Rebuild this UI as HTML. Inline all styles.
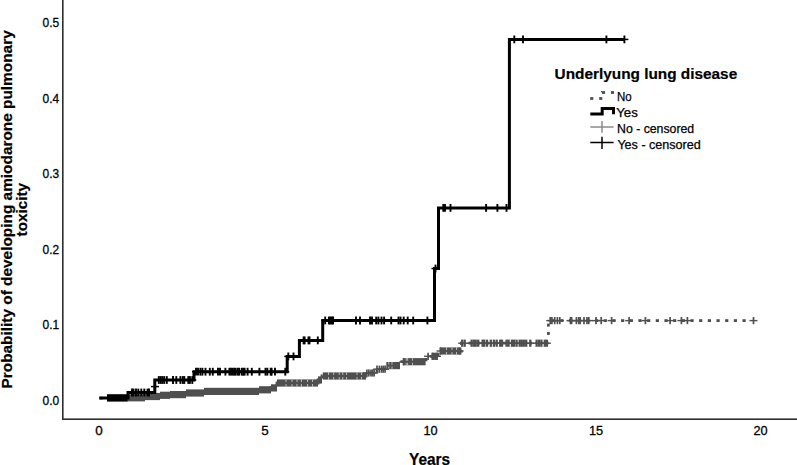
<!DOCTYPE html>
<html><head><meta charset="utf-8"><style>
html,body{margin:0;padding:0;background:#fff;}
body{width:797px;height:465px;overflow:hidden;}
svg{display:block;}
.tk{font-family:"Liberation Sans",sans-serif;font-size:13.4px;fill:#000;stroke:#000;stroke-width:0.3px;}
.tt{font-family:"Liberation Sans",sans-serif;font-size:15.4px;font-weight:bold;fill:#000;stroke:#000;stroke-width:0.2px;}
.lg{font-family:"Liberation Sans",sans-serif;font-size:12.4px;fill:#000;stroke:#000;stroke-width:0.25px;}
</style></head><body>
<svg width="797" height="465" viewBox="0 0 797 465">
<rect x="62" y="0" width="1.6" height="420" fill="#2e2e2e"/>
<rect x="62" y="418.4" width="735" height="1.6" fill="#2e2e2e"/>
<text x="59.2" y="27.2" text-anchor="end" class="tk" textLength="16.6" lengthAdjust="spacingAndGlyphs">0.5</text>
<text x="59.2" y="102.7" text-anchor="end" class="tk" textLength="16.6" lengthAdjust="spacingAndGlyphs">0.4</text>
<text x="59.2" y="178.2" text-anchor="end" class="tk" textLength="16.6" lengthAdjust="spacingAndGlyphs">0.3</text>
<text x="59.2" y="253.7" text-anchor="end" class="tk" textLength="16.6" lengthAdjust="spacingAndGlyphs">0.2</text>
<text x="59.2" y="329.2" text-anchor="end" class="tk" textLength="16.6" lengthAdjust="spacingAndGlyphs">0.1</text>
<text x="59.2" y="404.7" text-anchor="end" class="tk" textLength="16.6" lengthAdjust="spacingAndGlyphs">0.0</text>
<text x="99" y="435.1" text-anchor="middle" class="tk">0</text>
<text x="264.9" y="435.1" text-anchor="middle" class="tk">5</text>
<text x="430.5" y="435.1" text-anchor="middle" class="tk" textLength="14.2" lengthAdjust="spacingAndGlyphs">10</text>
<text x="596" y="435.1" text-anchor="middle" class="tk" textLength="14.2" lengthAdjust="spacingAndGlyphs">15</text>
<text x="760.5" y="435.1" text-anchor="middle" class="tk" textLength="14.2" lengthAdjust="spacingAndGlyphs">20</text>
<text x="429.6" y="464.6" text-anchor="middle" class="tt" style="font-size:16.2px" textLength="41.2" lengthAdjust="spacingAndGlyphs">Years</text>
<g transform="translate(12.1 209.4) rotate(-90)"><text x="0" y="0" text-anchor="middle" class="tt" textLength="358.2" lengthAdjust="spacingAndGlyphs">Probability of developing amiodarone pulmonary</text></g>
<g transform="translate(26.6 209.7) rotate(-90)"><text x="0" y="0" text-anchor="middle" class="tt" textLength="53.5" lengthAdjust="spacingAndGlyphs">toxicity</text></g>
<path d="M99.5 398.1H127V397.8H145V396.5H160V395.3H170V394.6H186V393H204V391.4H259V389.8H271V387.9H277V383H318V380H322V376H366V373H377V369.2H386V365.6H400V361.7H426V356.3H438V351H461.5V343.2H548.4" stroke="#4f4f4f" stroke-width="2.8" fill="none" stroke-dasharray="3.2 5.45" stroke-dashoffset="0"/>
<rect x="547.0" y="331.9" width="2.8" height="3.0" fill="#4f4f4f"/>
<rect x="547.0" y="323.6" width="2.8" height="3.0" fill="#4f4f4f"/>
<rect x="551.65" y="319.2" width="3.2" height="2.8" fill="#4f4f4f"/>
<rect x="560.32" y="319.2" width="3.2" height="2.8" fill="#4f4f4f"/>
<rect x="569.00" y="319.2" width="3.2" height="2.8" fill="#4f4f4f"/>
<rect x="577.67" y="319.2" width="3.2" height="2.8" fill="#4f4f4f"/>
<rect x="586.35" y="319.2" width="3.2" height="2.8" fill="#4f4f4f"/>
<rect x="595.02" y="319.2" width="3.2" height="2.8" fill="#4f4f4f"/>
<rect x="603.70" y="319.2" width="3.2" height="2.8" fill="#4f4f4f"/>
<rect x="612.37" y="319.2" width="3.2" height="2.8" fill="#4f4f4f"/>
<rect x="621.05" y="319.2" width="3.2" height="2.8" fill="#4f4f4f"/>
<rect x="629.72" y="319.2" width="3.2" height="2.8" fill="#4f4f4f"/>
<rect x="638.40" y="319.2" width="3.2" height="2.8" fill="#4f4f4f"/>
<rect x="647.07" y="319.2" width="3.2" height="2.8" fill="#4f4f4f"/>
<rect x="655.75" y="319.2" width="3.2" height="2.8" fill="#4f4f4f"/>
<rect x="664.42" y="319.2" width="3.2" height="2.8" fill="#4f4f4f"/>
<rect x="673.10" y="319.2" width="3.2" height="2.8" fill="#4f4f4f"/>
<rect x="681.77" y="319.2" width="3.2" height="2.8" fill="#4f4f4f"/>
<rect x="690.45" y="319.2" width="3.2" height="2.8" fill="#4f4f4f"/>
<rect x="699.12" y="319.2" width="3.2" height="2.8" fill="#4f4f4f"/>
<rect x="707.80" y="319.2" width="3.2" height="2.8" fill="#4f4f4f"/>
<rect x="716.47" y="319.2" width="3.2" height="2.8" fill="#4f4f4f"/>
<rect x="725.15" y="319.2" width="3.2" height="2.8" fill="#4f4f4f"/>
<rect x="733.82" y="319.2" width="3.2" height="2.8" fill="#4f4f4f"/>
<rect x="742.50" y="319.2" width="3.2" height="2.8" fill="#4f4f4f"/>
<rect x="127" y="394.2" width="18.0" height="7.2" fill="#4f4f4f"/>
<rect x="145" y="392.9" width="15.0" height="7.2" fill="#4f4f4f"/>
<rect x="160" y="391.7" width="10.0" height="7.2" fill="#4f4f4f"/>
<rect x="170" y="391.0" width="16.0" height="7.2" fill="#4f4f4f"/>
<rect x="186" y="389.4" width="18.0" height="7.2" fill="#4f4f4f"/>
<rect x="204" y="387.8" width="55.0" height="7.2" fill="#4f4f4f"/>
<rect x="259" y="386.2" width="12.0" height="7.2" fill="#4f4f4f"/>
<rect x="271" y="384.3" width="6.0" height="7.2" fill="#4f4f4f"/>
<rect x="318" y="376.4" width="4.0" height="7.2" fill="#4f4f4f"/>
<rect x="277" y="379.4" width="41.0" height="7.2" fill="#4f4f4f"/>
<rect x="285.50" y="379.4" width="1.0" height="2.6" fill="#fff" fill-opacity="0.6"/>
<rect x="285.50" y="384.0" width="1.0" height="2.6" fill="#fff" fill-opacity="0.6"/>
<rect x="291.50" y="379.4" width="1.0" height="2.6" fill="#fff" fill-opacity="0.6"/>
<rect x="291.50" y="384.0" width="1.0" height="2.6" fill="#fff" fill-opacity="0.6"/>
<rect x="296.50" y="379.4" width="1.0" height="2.6" fill="#fff" fill-opacity="0.6"/>
<rect x="296.50" y="384.0" width="1.0" height="2.6" fill="#fff" fill-opacity="0.6"/>
<rect x="300.90" y="379.4" width="1.0" height="2.6" fill="#fff" fill-opacity="0.6"/>
<rect x="300.90" y="384.0" width="1.0" height="2.6" fill="#fff" fill-opacity="0.6"/>
<rect x="307.00" y="379.4" width="1.0" height="2.6" fill="#fff" fill-opacity="0.6"/>
<rect x="307.00" y="384.0" width="1.0" height="2.6" fill="#fff" fill-opacity="0.6"/>
<rect x="312.00" y="379.4" width="1.0" height="2.6" fill="#fff" fill-opacity="0.6"/>
<rect x="312.00" y="384.0" width="1.0" height="2.6" fill="#fff" fill-opacity="0.6"/>
<rect x="322.8" y="372.4" width="43.2" height="7.2" fill="#4f4f4f"/>
<rect x="328.00" y="372.4" width="1.0" height="2.6" fill="#fff" fill-opacity="0.6"/>
<rect x="328.00" y="377.0" width="1.0" height="2.6" fill="#fff" fill-opacity="0.6"/>
<rect x="333.10" y="372.4" width="1.0" height="2.6" fill="#fff" fill-opacity="0.6"/>
<rect x="333.10" y="377.0" width="1.0" height="2.6" fill="#fff" fill-opacity="0.6"/>
<rect x="338.70" y="372.4" width="1.0" height="2.6" fill="#fff" fill-opacity="0.6"/>
<rect x="338.70" y="377.0" width="1.0" height="2.6" fill="#fff" fill-opacity="0.6"/>
<rect x="342.30" y="372.4" width="1.0" height="2.6" fill="#fff" fill-opacity="0.6"/>
<rect x="342.30" y="377.0" width="1.0" height="2.6" fill="#fff" fill-opacity="0.6"/>
<rect x="346.00" y="372.4" width="1.0" height="2.6" fill="#fff" fill-opacity="0.6"/>
<rect x="346.00" y="377.0" width="1.0" height="2.6" fill="#fff" fill-opacity="0.6"/>
<rect x="356.50" y="372.4" width="1.0" height="2.6" fill="#fff" fill-opacity="0.6"/>
<rect x="356.50" y="377.0" width="1.0" height="2.6" fill="#fff" fill-opacity="0.6"/>
<rect x="361.00" y="372.4" width="1.0" height="2.6" fill="#fff" fill-opacity="0.6"/>
<rect x="361.00" y="377.0" width="1.0" height="2.6" fill="#fff" fill-opacity="0.6"/>
<rect x="386.3" y="362.0" width="13.7" height="7.2" fill="#4f4f4f"/>
<rect x="388.30" y="362.0" width="1.0" height="2.6" fill="#fff" fill-opacity="0.6"/>
<rect x="388.30" y="366.6" width="1.0" height="2.6" fill="#fff" fill-opacity="0.6"/>
<rect x="391.50" y="362.0" width="1.0" height="2.6" fill="#fff" fill-opacity="0.6"/>
<rect x="391.50" y="366.6" width="1.0" height="2.6" fill="#fff" fill-opacity="0.6"/>
<rect x="403" y="358.1" width="22.6" height="7.2" fill="#4f4f4f"/>
<rect x="405.70" y="358.1" width="1.0" height="2.6" fill="#fff" fill-opacity="0.6"/>
<rect x="405.70" y="362.7" width="1.0" height="2.6" fill="#fff" fill-opacity="0.6"/>
<rect x="407.10" y="358.1" width="1.0" height="2.6" fill="#fff" fill-opacity="0.6"/>
<rect x="407.10" y="362.7" width="1.0" height="2.6" fill="#fff" fill-opacity="0.6"/>
<rect x="412.00" y="358.1" width="1.0" height="2.6" fill="#fff" fill-opacity="0.6"/>
<rect x="412.00" y="362.7" width="1.0" height="2.6" fill="#fff" fill-opacity="0.6"/>
<rect x="431.6" y="352.7" width="6.2" height="7.2" fill="#4f4f4f"/>
<rect x="439.7" y="347.4" width="21.7" height="7.2" fill="#4f4f4f"/>
<rect x="446.00" y="347.4" width="1.0" height="2.6" fill="#fff" fill-opacity="0.6"/>
<rect x="446.00" y="352.0" width="1.0" height="2.6" fill="#fff" fill-opacity="0.6"/>
<rect x="451.50" y="347.4" width="1.0" height="2.6" fill="#fff" fill-opacity="0.6"/>
<rect x="451.50" y="352.0" width="1.0" height="2.6" fill="#fff" fill-opacity="0.6"/>
<rect x="456.00" y="347.4" width="1.0" height="2.6" fill="#fff" fill-opacity="0.6"/>
<rect x="456.00" y="352.0" width="1.0" height="2.6" fill="#fff" fill-opacity="0.6"/>
<path d="M362.90 373.00H370.90" stroke="#4f4f4f" stroke-width="1.4" fill="none"/><path d="M366.90 369.40V376.60" stroke="#4f4f4f" stroke-width="1.7" fill="none"/>
<path d="M364.80 373.00H372.80" stroke="#4f4f4f" stroke-width="1.4" fill="none"/><path d="M368.80 369.40V376.60" stroke="#4f4f4f" stroke-width="1.7" fill="none"/>
<path d="M367.00 373.00H375.00" stroke="#4f4f4f" stroke-width="1.4" fill="none"/><path d="M371.00 369.40V376.60" stroke="#4f4f4f" stroke-width="1.7" fill="none"/>
<path d="M368.60 373.00H376.60" stroke="#4f4f4f" stroke-width="1.4" fill="none"/><path d="M372.60 369.40V376.60" stroke="#4f4f4f" stroke-width="1.7" fill="none"/>
<path d="M370.10 373.00H378.10" stroke="#4f4f4f" stroke-width="1.4" fill="none"/><path d="M374.10 369.40V376.60" stroke="#4f4f4f" stroke-width="1.7" fill="none"/>
<path d="M373.00 369.20H381.00" stroke="#4f4f4f" stroke-width="1.4" fill="none"/><path d="M377.00 365.60V372.80" stroke="#4f4f4f" stroke-width="1.7" fill="none"/>
<path d="M375.40 369.20H383.40" stroke="#4f4f4f" stroke-width="1.4" fill="none"/><path d="M379.40 365.60V372.80" stroke="#4f4f4f" stroke-width="1.7" fill="none"/>
<path d="M377.60 369.20H385.60" stroke="#4f4f4f" stroke-width="1.4" fill="none"/><path d="M381.60 365.60V372.80" stroke="#4f4f4f" stroke-width="1.7" fill="none"/>
<path d="M379.30 369.20H387.30" stroke="#4f4f4f" stroke-width="1.4" fill="none"/><path d="M383.30 365.60V372.80" stroke="#4f4f4f" stroke-width="1.7" fill="none"/>
<path d="M381.10 369.20H389.10" stroke="#4f4f4f" stroke-width="1.4" fill="none"/><path d="M385.10 365.60V372.80" stroke="#4f4f4f" stroke-width="1.7" fill="none"/>
<path d="M399.50 361.70H407.50" stroke="#4f4f4f" stroke-width="1.4" fill="none"/><path d="M403.50 358.10V365.30" stroke="#4f4f4f" stroke-width="1.7" fill="none"/>
<path d="M424.10 356.30H432.10" stroke="#4f4f4f" stroke-width="1.4" fill="none"/><path d="M428.10 352.70V359.90" stroke="#4f4f4f" stroke-width="1.7" fill="none"/>
<path d="M428.50 356.30H436.50" stroke="#4f4f4f" stroke-width="1.4" fill="none"/><path d="M432.50 352.70V359.90" stroke="#4f4f4f" stroke-width="1.7" fill="none"/>
<path d="M433.00 356.30H441.00" stroke="#4f4f4f" stroke-width="1.4" fill="none"/><path d="M437.00 352.70V359.90" stroke="#4f4f4f" stroke-width="1.7" fill="none"/>
<path d="M436.50 351.00H444.50" stroke="#4f4f4f" stroke-width="1.4" fill="none"/><path d="M440.50 347.40V354.60" stroke="#4f4f4f" stroke-width="1.7" fill="none"/>
<path d="M455.60 351.00H463.60" stroke="#4f4f4f" stroke-width="1.4" fill="none"/><path d="M459.60 347.40V354.60" stroke="#4f4f4f" stroke-width="1.7" fill="none"/>
<path d="M458.20 343.20H466.20" stroke="#4f4f4f" stroke-width="1.4" fill="none"/><path d="M462.20 339.60V346.80" stroke="#4f4f4f" stroke-width="2.3" fill="none"/>
<path d="M460.70 343.20H468.70" stroke="#4f4f4f" stroke-width="1.4" fill="none"/><path d="M464.70 339.60V346.80" stroke="#4f4f4f" stroke-width="2.3" fill="none"/>
<path d="M467.60 343.20H475.60" stroke="#4f4f4f" stroke-width="1.4" fill="none"/><path d="M471.60 339.60V346.80" stroke="#4f4f4f" stroke-width="2.3" fill="none"/>
<path d="M469.80 343.20H477.80" stroke="#4f4f4f" stroke-width="1.4" fill="none"/><path d="M473.80 339.60V346.80" stroke="#4f4f4f" stroke-width="2.3" fill="none"/>
<path d="M471.70 343.20H479.70" stroke="#4f4f4f" stroke-width="1.4" fill="none"/><path d="M475.70 339.60V346.80" stroke="#4f4f4f" stroke-width="2.3" fill="none"/>
<path d="M474.20 343.20H482.20" stroke="#4f4f4f" stroke-width="1.4" fill="none"/><path d="M478.20 339.60V346.80" stroke="#4f4f4f" stroke-width="2.3" fill="none"/>
<path d="M478.60 343.20H486.60" stroke="#4f4f4f" stroke-width="1.4" fill="none"/><path d="M482.60 339.60V346.80" stroke="#4f4f4f" stroke-width="2.3" fill="none"/>
<path d="M480.20 343.20H488.20" stroke="#4f4f4f" stroke-width="1.4" fill="none"/><path d="M484.20 339.60V346.80" stroke="#4f4f4f" stroke-width="2.3" fill="none"/>
<path d="M483.00 343.20H491.00" stroke="#4f4f4f" stroke-width="1.4" fill="none"/><path d="M487.00 339.60V346.80" stroke="#4f4f4f" stroke-width="2.3" fill="none"/>
<path d="M486.80 343.20H494.80" stroke="#4f4f4f" stroke-width="1.4" fill="none"/><path d="M490.80 339.60V346.80" stroke="#4f4f4f" stroke-width="2.3" fill="none"/>
<path d="M489.90 343.20H497.90" stroke="#4f4f4f" stroke-width="1.4" fill="none"/><path d="M493.90 339.60V346.80" stroke="#4f4f4f" stroke-width="2.3" fill="none"/>
<path d="M492.70 343.20H500.70" stroke="#4f4f4f" stroke-width="1.4" fill="none"/><path d="M496.70 339.60V346.80" stroke="#4f4f4f" stroke-width="2.3" fill="none"/>
<path d="M496.20 343.20H504.20" stroke="#4f4f4f" stroke-width="1.4" fill="none"/><path d="M500.20 339.60V346.80" stroke="#4f4f4f" stroke-width="2.3" fill="none"/>
<path d="M498.00 343.20H506.00" stroke="#4f4f4f" stroke-width="1.4" fill="none"/><path d="M502.00 339.60V346.80" stroke="#4f4f4f" stroke-width="2.3" fill="none"/>
<path d="M502.60 343.20H510.60" stroke="#4f4f4f" stroke-width="1.4" fill="none"/><path d="M506.60 339.60V346.80" stroke="#4f4f4f" stroke-width="2.3" fill="none"/>
<path d="M504.60 343.20H512.60" stroke="#4f4f4f" stroke-width="1.4" fill="none"/><path d="M508.60 339.60V346.80" stroke="#4f4f4f" stroke-width="2.3" fill="none"/>
<path d="M508.00 343.20H516.00" stroke="#4f4f4f" stroke-width="1.4" fill="none"/><path d="M512.00 339.60V346.80" stroke="#4f4f4f" stroke-width="2.3" fill="none"/>
<path d="M510.10 343.20H518.10" stroke="#4f4f4f" stroke-width="1.4" fill="none"/><path d="M514.10 339.60V346.80" stroke="#4f4f4f" stroke-width="2.3" fill="none"/>
<path d="M512.60 343.20H520.60" stroke="#4f4f4f" stroke-width="1.4" fill="none"/><path d="M516.60 339.60V346.80" stroke="#4f4f4f" stroke-width="2.3" fill="none"/>
<path d="M515.70 343.20H523.70" stroke="#4f4f4f" stroke-width="1.4" fill="none"/><path d="M519.70 339.60V346.80" stroke="#4f4f4f" stroke-width="2.3" fill="none"/>
<path d="M517.70 343.20H525.70" stroke="#4f4f4f" stroke-width="1.4" fill="none"/><path d="M521.70 339.60V346.80" stroke="#4f4f4f" stroke-width="2.3" fill="none"/>
<path d="M519.80 343.20H527.80" stroke="#4f4f4f" stroke-width="1.4" fill="none"/><path d="M523.80 339.60V346.80" stroke="#4f4f4f" stroke-width="2.3" fill="none"/>
<path d="M522.20 343.20H530.20" stroke="#4f4f4f" stroke-width="1.4" fill="none"/><path d="M526.20 339.60V346.80" stroke="#4f4f4f" stroke-width="2.3" fill="none"/>
<path d="M526.30 343.20H534.30" stroke="#4f4f4f" stroke-width="1.4" fill="none"/><path d="M530.30 339.60V346.80" stroke="#4f4f4f" stroke-width="2.3" fill="none"/>
<path d="M532.60 343.20H540.60" stroke="#4f4f4f" stroke-width="1.4" fill="none"/><path d="M536.60 339.60V346.80" stroke="#4f4f4f" stroke-width="2.3" fill="none"/>
<path d="M535.00 343.20H543.00" stroke="#4f4f4f" stroke-width="1.4" fill="none"/><path d="M539.00 339.60V346.80" stroke="#4f4f4f" stroke-width="2.3" fill="none"/>
<path d="M537.40 343.20H545.40" stroke="#4f4f4f" stroke-width="1.4" fill="none"/><path d="M541.40 339.60V346.80" stroke="#4f4f4f" stroke-width="2.3" fill="none"/>
<path d="M540.80 343.20H548.80" stroke="#4f4f4f" stroke-width="1.4" fill="none"/><path d="M544.80 339.60V346.80" stroke="#4f4f4f" stroke-width="2.3" fill="none"/>
<path d="M542.90 343.20H550.90" stroke="#4f4f4f" stroke-width="1.4" fill="none"/><path d="M546.90 339.60V346.80" stroke="#4f4f4f" stroke-width="2.3" fill="none"/>
<path d="M546.20 320.60H554.20" stroke="#4f4f4f" stroke-width="1.4" fill="none"/><path d="M550.20 317.00V324.20" stroke="#4f4f4f" stroke-width="1.7" fill="none"/>
<path d="M547.90 320.60H555.90" stroke="#4f4f4f" stroke-width="1.4" fill="none"/><path d="M551.90 317.00V324.20" stroke="#4f4f4f" stroke-width="1.7" fill="none"/>
<path d="M550.70 320.60H558.70" stroke="#4f4f4f" stroke-width="1.4" fill="none"/><path d="M554.70 317.00V324.20" stroke="#4f4f4f" stroke-width="1.7" fill="none"/>
<path d="M553.40 320.60H561.40" stroke="#4f4f4f" stroke-width="1.4" fill="none"/><path d="M557.40 317.00V324.20" stroke="#4f4f4f" stroke-width="1.7" fill="none"/>
<path d="M555.80 320.60H563.80" stroke="#4f4f4f" stroke-width="1.4" fill="none"/><path d="M559.80 317.00V324.20" stroke="#4f4f4f" stroke-width="1.7" fill="none"/>
<path d="M566.50 320.60H574.50" stroke="#4f4f4f" stroke-width="1.4" fill="none"/><path d="M570.50 317.00V324.20" stroke="#4f4f4f" stroke-width="1.7" fill="none"/>
<path d="M567.60 320.60H575.60" stroke="#4f4f4f" stroke-width="1.4" fill="none"/><path d="M571.60 317.00V324.20" stroke="#4f4f4f" stroke-width="1.7" fill="none"/>
<path d="M572.40 320.60H580.40" stroke="#4f4f4f" stroke-width="1.4" fill="none"/><path d="M576.40 317.00V324.20" stroke="#4f4f4f" stroke-width="1.7" fill="none"/>
<path d="M574.80 320.60H582.80" stroke="#4f4f4f" stroke-width="1.4" fill="none"/><path d="M578.80 317.00V324.20" stroke="#4f4f4f" stroke-width="1.7" fill="none"/>
<path d="M576.20 320.60H584.20" stroke="#4f4f4f" stroke-width="1.4" fill="none"/><path d="M580.20 317.00V324.20" stroke="#4f4f4f" stroke-width="1.7" fill="none"/>
<path d="M580.00 320.60H588.00" stroke="#4f4f4f" stroke-width="1.4" fill="none"/><path d="M584.00 317.00V324.20" stroke="#4f4f4f" stroke-width="1.7" fill="none"/>
<path d="M583.00 320.60H591.00" stroke="#4f4f4f" stroke-width="1.4" fill="none"/><path d="M587.00 317.00V324.20" stroke="#4f4f4f" stroke-width="1.7" fill="none"/>
<path d="M584.80 320.60H592.80" stroke="#4f4f4f" stroke-width="1.4" fill="none"/><path d="M588.80 317.00V324.20" stroke="#4f4f4f" stroke-width="1.7" fill="none"/>
<path d="M592.00 320.60H600.00" stroke="#4f4f4f" stroke-width="1.4" fill="none"/><path d="M596.00 317.00V324.20" stroke="#4f4f4f" stroke-width="1.7" fill="none"/>
<path d="M597.20 320.60H605.20" stroke="#4f4f4f" stroke-width="1.4" fill="none"/><path d="M601.20 317.00V324.20" stroke="#4f4f4f" stroke-width="1.7" fill="none"/>
<path d="M607.60 320.60H615.60" stroke="#4f4f4f" stroke-width="1.4" fill="none"/><path d="M611.60 317.00V324.20" stroke="#4f4f4f" stroke-width="1.7" fill="none"/>
<path d="M625.10 320.60H633.10" stroke="#4f4f4f" stroke-width="1.4" fill="none"/><path d="M629.10 317.00V324.20" stroke="#4f4f4f" stroke-width="1.7" fill="none"/>
<path d="M641.40 320.60H649.40" stroke="#4f4f4f" stroke-width="1.4" fill="none"/><path d="M645.40 317.00V324.20" stroke="#4f4f4f" stroke-width="1.7" fill="none"/>
<path d="M666.10 320.60H674.10" stroke="#4f4f4f" stroke-width="1.4" fill="none"/><path d="M670.10 317.00V324.20" stroke="#4f4f4f" stroke-width="1.7" fill="none"/>
<path d="M677.40 320.60H685.40" stroke="#4f4f4f" stroke-width="1.4" fill="none"/><path d="M681.40 317.00V324.20" stroke="#4f4f4f" stroke-width="1.7" fill="none"/>
<path d="M683.40 320.60H691.40" stroke="#4f4f4f" stroke-width="1.4" fill="none"/><path d="M687.40 317.00V324.20" stroke="#4f4f4f" stroke-width="1.7" fill="none"/>
<path d="M749.50 320.60H757.50" stroke="#4f4f4f" stroke-width="1.4" fill="none"/><path d="M753.50 317.00V324.20" stroke="#4f4f4f" stroke-width="1.7" fill="none"/>
<path d="M99.3 398.1H128V392.5H154.8V380H194V371.7H287.2V356.4H299.4V340.4H322.7V320.5H434.5V268.5H438.5V207.9H509.4V39.4H624.4" stroke="#000" stroke-width="3" fill="none" stroke-linejoin="miter"/>
<rect x="107" y="394.2" width="20.5" height="7.4" fill="#000"/>
<path d="M128.00 392.50H136.00" stroke="#000" stroke-width="1.5" fill="none"/><path d="M132.00 388.60V396.40" stroke="#000" stroke-width="1.9" fill="none"/>
<path d="M129.50 392.50H137.50" stroke="#000" stroke-width="1.5" fill="none"/><path d="M133.50 388.60V396.40" stroke="#000" stroke-width="1.9" fill="none"/>
<path d="M132.00 392.50H140.00" stroke="#000" stroke-width="1.5" fill="none"/><path d="M136.00 388.60V396.40" stroke="#000" stroke-width="1.9" fill="none"/>
<path d="M134.30 392.50H142.30" stroke="#000" stroke-width="1.5" fill="none"/><path d="M138.30 388.60V396.40" stroke="#000" stroke-width="1.9" fill="none"/>
<path d="M137.30 392.50H145.30" stroke="#000" stroke-width="1.5" fill="none"/><path d="M141.30 388.60V396.40" stroke="#000" stroke-width="1.9" fill="none"/>
<path d="M140.30 392.50H148.30" stroke="#000" stroke-width="1.5" fill="none"/><path d="M144.30 388.60V396.40" stroke="#000" stroke-width="1.9" fill="none"/>
<path d="M143.50 392.50H151.50" stroke="#000" stroke-width="1.5" fill="none"/><path d="M147.50 388.60V396.40" stroke="#000" stroke-width="1.9" fill="none"/>
<path d="M145.00 392.50H153.00" stroke="#000" stroke-width="1.5" fill="none"/><path d="M149.00 388.60V396.40" stroke="#000" stroke-width="1.9" fill="none"/>
<path d="M151.00 386.60H159.00" stroke="#000" stroke-width="1.5" fill="none"/><path d="M155.00 382.70V390.50" stroke="#000" stroke-width="1.9" fill="none"/>
<path d="M154.80 380.00H162.80" stroke="#000" stroke-width="1.5" fill="none"/><path d="M158.80 376.10V383.90" stroke="#000" stroke-width="1.9" fill="none"/>
<path d="M156.60 380.00H164.60" stroke="#000" stroke-width="1.5" fill="none"/><path d="M160.60 376.10V383.90" stroke="#000" stroke-width="1.9" fill="none"/>
<path d="M158.30 380.00H166.30" stroke="#000" stroke-width="1.5" fill="none"/><path d="M162.30 376.10V383.90" stroke="#000" stroke-width="1.9" fill="none"/>
<path d="M160.20 380.00H168.20" stroke="#000" stroke-width="1.5" fill="none"/><path d="M164.20 376.10V383.90" stroke="#000" stroke-width="1.9" fill="none"/>
<path d="M162.80 380.00H170.80" stroke="#000" stroke-width="1.5" fill="none"/><path d="M166.80 376.10V383.90" stroke="#000" stroke-width="1.9" fill="none"/>
<path d="M169.00 380.00H177.00" stroke="#000" stroke-width="1.5" fill="none"/><path d="M173.00 376.10V383.90" stroke="#000" stroke-width="1.9" fill="none"/>
<path d="M172.30 380.00H180.30" stroke="#000" stroke-width="1.5" fill="none"/><path d="M176.30 376.10V383.90" stroke="#000" stroke-width="1.9" fill="none"/>
<path d="M176.40 380.00H184.40" stroke="#000" stroke-width="1.5" fill="none"/><path d="M180.40 376.10V383.90" stroke="#000" stroke-width="1.9" fill="none"/>
<path d="M178.80 380.00H186.80" stroke="#000" stroke-width="1.5" fill="none"/><path d="M182.80 376.10V383.90" stroke="#000" stroke-width="1.9" fill="none"/>
<path d="M180.30 380.00H188.30" stroke="#000" stroke-width="1.5" fill="none"/><path d="M184.30 376.10V383.90" stroke="#000" stroke-width="1.9" fill="none"/>
<path d="M184.30 380.00H192.30" stroke="#000" stroke-width="1.5" fill="none"/><path d="M188.30 376.10V383.90" stroke="#000" stroke-width="1.9" fill="none"/>
<path d="M185.90 380.00H193.90" stroke="#000" stroke-width="1.5" fill="none"/><path d="M189.90 376.10V383.90" stroke="#000" stroke-width="1.9" fill="none"/>
<path d="M188.30 380.00H196.30" stroke="#000" stroke-width="1.5" fill="none"/><path d="M192.30 376.10V383.90" stroke="#000" stroke-width="1.9" fill="none"/>
<path d="M192.00 371.70H200.00" stroke="#000" stroke-width="1.5" fill="none"/><path d="M196.00 367.80V375.60" stroke="#000" stroke-width="1.9" fill="none"/>
<path d="M194.00 371.70H202.00" stroke="#000" stroke-width="1.5" fill="none"/><path d="M198.00 367.80V375.60" stroke="#000" stroke-width="1.9" fill="none"/>
<path d="M196.40 371.70H204.40" stroke="#000" stroke-width="1.5" fill="none"/><path d="M200.40 367.80V375.60" stroke="#000" stroke-width="1.9" fill="none"/>
<path d="M198.40 371.70H206.40" stroke="#000" stroke-width="1.5" fill="none"/><path d="M202.40 367.80V375.60" stroke="#000" stroke-width="1.9" fill="none"/>
<path d="M201.50 371.70H209.50" stroke="#000" stroke-width="1.5" fill="none"/><path d="M205.50 367.80V375.60" stroke="#000" stroke-width="1.9" fill="none"/>
<path d="M205.80 371.70H213.80" stroke="#000" stroke-width="1.5" fill="none"/><path d="M209.80 367.80V375.60" stroke="#000" stroke-width="1.9" fill="none"/>
<path d="M208.80 371.70H216.80" stroke="#000" stroke-width="1.5" fill="none"/><path d="M212.80 367.80V375.60" stroke="#000" stroke-width="1.9" fill="none"/>
<path d="M214.00 371.70H222.00" stroke="#000" stroke-width="1.5" fill="none"/><path d="M218.00 367.80V375.60" stroke="#000" stroke-width="1.9" fill="none"/>
<path d="M216.00 371.70H224.00" stroke="#000" stroke-width="1.5" fill="none"/><path d="M220.00 367.80V375.60" stroke="#000" stroke-width="1.9" fill="none"/>
<path d="M221.40 371.70H229.40" stroke="#000" stroke-width="1.5" fill="none"/><path d="M225.40 367.80V375.60" stroke="#000" stroke-width="1.9" fill="none"/>
<path d="M225.40 371.70H233.40" stroke="#000" stroke-width="1.5" fill="none"/><path d="M229.40 367.80V375.60" stroke="#000" stroke-width="1.9" fill="none"/>
<path d="M227.00 371.70H235.00" stroke="#000" stroke-width="1.5" fill="none"/><path d="M231.00 367.80V375.60" stroke="#000" stroke-width="1.9" fill="none"/>
<path d="M228.60 371.70H236.60" stroke="#000" stroke-width="1.5" fill="none"/><path d="M232.60 367.80V375.60" stroke="#000" stroke-width="1.9" fill="none"/>
<path d="M230.20 371.70H238.20" stroke="#000" stroke-width="1.5" fill="none"/><path d="M234.20 367.80V375.60" stroke="#000" stroke-width="1.9" fill="none"/>
<path d="M231.70 371.70H239.70" stroke="#000" stroke-width="1.5" fill="none"/><path d="M235.70 367.80V375.60" stroke="#000" stroke-width="1.9" fill="none"/>
<path d="M233.80 371.70H241.80" stroke="#000" stroke-width="1.5" fill="none"/><path d="M237.80 367.80V375.60" stroke="#000" stroke-width="1.9" fill="none"/>
<path d="M235.20 371.70H243.20" stroke="#000" stroke-width="1.5" fill="none"/><path d="M239.20 367.80V375.60" stroke="#000" stroke-width="1.9" fill="none"/>
<path d="M237.80 371.70H245.80" stroke="#000" stroke-width="1.5" fill="none"/><path d="M241.80 367.80V375.60" stroke="#000" stroke-width="1.9" fill="none"/>
<path d="M239.30 371.70H247.30" stroke="#000" stroke-width="1.5" fill="none"/><path d="M243.30 367.80V375.60" stroke="#000" stroke-width="1.9" fill="none"/>
<path d="M240.60 371.70H248.60" stroke="#000" stroke-width="1.5" fill="none"/><path d="M244.60 367.80V375.60" stroke="#000" stroke-width="1.9" fill="none"/>
<path d="M243.60 371.70H251.60" stroke="#000" stroke-width="1.5" fill="none"/><path d="M247.60 367.80V375.60" stroke="#000" stroke-width="1.9" fill="none"/>
<path d="M247.80 371.70H255.80" stroke="#000" stroke-width="1.5" fill="none"/><path d="M251.80 367.80V375.60" stroke="#000" stroke-width="1.9" fill="none"/>
<path d="M255.40 371.70H263.40" stroke="#000" stroke-width="1.5" fill="none"/><path d="M259.40 367.80V375.60" stroke="#000" stroke-width="1.9" fill="none"/>
<path d="M261.50 371.70H269.50" stroke="#000" stroke-width="1.5" fill="none"/><path d="M265.50 367.80V375.60" stroke="#000" stroke-width="1.9" fill="none"/>
<path d="M263.30 371.70H271.30" stroke="#000" stroke-width="1.5" fill="none"/><path d="M267.30 367.80V375.60" stroke="#000" stroke-width="1.9" fill="none"/>
<path d="M266.70 371.70H274.70" stroke="#000" stroke-width="1.5" fill="none"/><path d="M270.70 367.80V375.60" stroke="#000" stroke-width="1.9" fill="none"/>
<path d="M267.60 371.70H275.60" stroke="#000" stroke-width="1.5" fill="none"/><path d="M271.60 367.80V375.60" stroke="#000" stroke-width="1.9" fill="none"/>
<path d="M271.00 371.70H279.00" stroke="#000" stroke-width="1.5" fill="none"/><path d="M275.00 367.80V375.60" stroke="#000" stroke-width="1.9" fill="none"/>
<path d="M281.30 371.70H289.30" stroke="#000" stroke-width="1.5" fill="none"/><path d="M285.30 367.80V375.60" stroke="#000" stroke-width="1.9" fill="none"/>
<path d="M284.30 356.40H292.30" stroke="#000" stroke-width="1.5" fill="none"/><path d="M288.30 352.50V360.30" stroke="#000" stroke-width="1.9" fill="none"/>
<path d="M289.50 356.40H297.50" stroke="#000" stroke-width="1.5" fill="none"/><path d="M293.50 352.50V360.30" stroke="#000" stroke-width="1.9" fill="none"/>
<path d="M299.60 340.40H307.60" stroke="#000" stroke-width="1.5" fill="none"/><path d="M303.60 336.50V344.30" stroke="#000" stroke-width="1.9" fill="none"/>
<path d="M300.60 340.40H308.60" stroke="#000" stroke-width="1.5" fill="none"/><path d="M304.60 336.50V344.30" stroke="#000" stroke-width="1.9" fill="none"/>
<path d="M304.50 340.40H312.50" stroke="#000" stroke-width="1.5" fill="none"/><path d="M308.50 336.50V344.30" stroke="#000" stroke-width="1.9" fill="none"/>
<path d="M305.50 340.40H313.50" stroke="#000" stroke-width="1.5" fill="none"/><path d="M309.50 336.50V344.30" stroke="#000" stroke-width="1.9" fill="none"/>
<path d="M313.80 340.40H321.80" stroke="#000" stroke-width="1.5" fill="none"/><path d="M317.80 336.50V344.30" stroke="#000" stroke-width="1.9" fill="none"/>
<path d="M321.20 320.50H329.20" stroke="#000" stroke-width="1.5" fill="none"/><path d="M325.20 316.60V324.40" stroke="#000" stroke-width="1.9" fill="none"/>
<path d="M324.90 320.50H332.90" stroke="#000" stroke-width="1.5" fill="none"/><path d="M328.90 316.60V324.40" stroke="#000" stroke-width="1.9" fill="none"/>
<path d="M326.10 320.50H334.10" stroke="#000" stroke-width="1.5" fill="none"/><path d="M330.10 316.60V324.40" stroke="#000" stroke-width="1.9" fill="none"/>
<path d="M327.30 320.50H335.30" stroke="#000" stroke-width="1.5" fill="none"/><path d="M331.30 316.60V324.40" stroke="#000" stroke-width="1.9" fill="none"/>
<path d="M328.50 320.50H336.50" stroke="#000" stroke-width="1.5" fill="none"/><path d="M332.50 316.60V324.40" stroke="#000" stroke-width="1.9" fill="none"/>
<path d="M329.10 320.50H337.10" stroke="#000" stroke-width="1.5" fill="none"/><path d="M333.10 316.60V324.40" stroke="#000" stroke-width="1.9" fill="none"/>
<path d="M352.00 320.50H360.00" stroke="#000" stroke-width="1.5" fill="none"/><path d="M356.00 316.60V324.40" stroke="#000" stroke-width="1.9" fill="none"/>
<path d="M356.00 320.50H364.00" stroke="#000" stroke-width="1.5" fill="none"/><path d="M360.00 316.60V324.40" stroke="#000" stroke-width="1.9" fill="none"/>
<path d="M366.00 320.50H374.00" stroke="#000" stroke-width="1.5" fill="none"/><path d="M370.00 316.60V324.40" stroke="#000" stroke-width="1.9" fill="none"/>
<path d="M368.00 320.50H376.00" stroke="#000" stroke-width="1.5" fill="none"/><path d="M372.00 316.60V324.40" stroke="#000" stroke-width="1.9" fill="none"/>
<path d="M372.20 320.50H380.20" stroke="#000" stroke-width="1.5" fill="none"/><path d="M376.20 316.60V324.40" stroke="#000" stroke-width="1.9" fill="none"/>
<path d="M374.40 320.50H382.40" stroke="#000" stroke-width="1.5" fill="none"/><path d="M378.40 316.60V324.40" stroke="#000" stroke-width="1.9" fill="none"/>
<path d="M377.50 320.50H385.50" stroke="#000" stroke-width="1.5" fill="none"/><path d="M381.50 316.60V324.40" stroke="#000" stroke-width="1.9" fill="none"/>
<path d="M380.10 320.50H388.10" stroke="#000" stroke-width="1.5" fill="none"/><path d="M384.10 316.60V324.40" stroke="#000" stroke-width="1.9" fill="none"/>
<path d="M387.20 320.50H395.20" stroke="#000" stroke-width="1.5" fill="none"/><path d="M391.20 316.60V324.40" stroke="#000" stroke-width="1.9" fill="none"/>
<path d="M394.50 320.50H402.50" stroke="#000" stroke-width="1.5" fill="none"/><path d="M398.50 316.60V324.40" stroke="#000" stroke-width="1.9" fill="none"/>
<path d="M396.50 320.50H404.50" stroke="#000" stroke-width="1.5" fill="none"/><path d="M400.50 316.60V324.40" stroke="#000" stroke-width="1.9" fill="none"/>
<path d="M399.70 320.50H407.70" stroke="#000" stroke-width="1.5" fill="none"/><path d="M403.70 316.60V324.40" stroke="#000" stroke-width="1.9" fill="none"/>
<path d="M403.70 320.50H411.70" stroke="#000" stroke-width="1.5" fill="none"/><path d="M407.70 316.60V324.40" stroke="#000" stroke-width="1.9" fill="none"/>
<path d="M409.20 320.50H417.20" stroke="#000" stroke-width="1.5" fill="none"/><path d="M413.20 316.60V324.40" stroke="#000" stroke-width="1.9" fill="none"/>
<path d="M423.40 320.50H431.40" stroke="#000" stroke-width="1.5" fill="none"/><path d="M427.40 316.60V324.40" stroke="#000" stroke-width="1.9" fill="none"/>
<path d="M431.50 268.50H439.50" stroke="#000" stroke-width="1.5" fill="none"/><path d="M435.50 264.60V272.40" stroke="#000" stroke-width="1.9" fill="none"/>
<path d="M439.30 207.90H447.30" stroke="#000" stroke-width="1.5" fill="none"/><path d="M443.30 204.00V211.80" stroke="#000" stroke-width="1.9" fill="none"/>
<path d="M441.00 207.90H449.00" stroke="#000" stroke-width="1.5" fill="none"/><path d="M445.00 204.00V211.80" stroke="#000" stroke-width="1.9" fill="none"/>
<path d="M446.50 207.90H454.50" stroke="#000" stroke-width="1.5" fill="none"/><path d="M450.50 204.00V211.80" stroke="#000" stroke-width="1.9" fill="none"/>
<path d="M482.10 207.90H490.10" stroke="#000" stroke-width="1.5" fill="none"/><path d="M486.10 204.00V211.80" stroke="#000" stroke-width="1.9" fill="none"/>
<path d="M493.40 207.90H501.40" stroke="#000" stroke-width="1.5" fill="none"/><path d="M497.40 204.00V211.80" stroke="#000" stroke-width="1.9" fill="none"/>
<path d="M502.50 207.90H510.50" stroke="#000" stroke-width="1.5" fill="none"/><path d="M506.50 204.00V211.80" stroke="#000" stroke-width="1.9" fill="none"/>
<path d="M510.30 39.40H518.30" stroke="#000" stroke-width="1.5" fill="none"/><path d="M514.30 35.50V43.30" stroke="#000" stroke-width="1.9" fill="none"/>
<path d="M519.00 39.40H527.00" stroke="#000" stroke-width="1.5" fill="none"/><path d="M523.00 35.50V43.30" stroke="#000" stroke-width="1.9" fill="none"/>
<path d="M602.40 39.40H610.40" stroke="#000" stroke-width="1.5" fill="none"/><path d="M606.40 35.50V43.30" stroke="#000" stroke-width="1.9" fill="none"/>
<path d="M620.40 39.40H628.40" stroke="#000" stroke-width="1.5" fill="none"/><path d="M624.40 35.50V43.30" stroke="#000" stroke-width="1.9" fill="none"/>
<text x="554.6" y="79.1" class="tt" textLength="182.6" lengthAdjust="spacingAndGlyphs">Underlyung lung disease</text>
<rect x="590.2" y="97.1" width="3.1" height="2.8" fill="#4f4f4f"/>
<rect x="599.2" y="97.1" width="3.1" height="2.8" fill="#4f4f4f"/>
<rect x="602.0" y="91.1" width="3.1" height="2.8" fill="#4f4f4f"/>
<rect x="610.9" y="91.1" width="3.1" height="2.8" fill="#4f4f4f"/>
<rect x="600.9" y="91.1" width="1.2" height="1.2" fill="#4f4f4f"/>
<text x="617" y="100.8" class="lg" textLength="14.7" lengthAdjust="spacingAndGlyphs">No</text>
<path d="M590.3 114H602.2V108.6H613.5V114.2" stroke="#000" stroke-width="3" fill="none" stroke-linejoin="miter"/>
<text x="616.2" y="116.7" class="lg" textLength="21.6" lengthAdjust="spacingAndGlyphs">Yes</text>
<path d="M590.3 126.9H613.6M602 121V132.8" stroke="#8a8a8a" stroke-width="1.5" fill="none"/>
<text x="617" y="132.6" class="lg" textLength="77.2" lengthAdjust="spacingAndGlyphs">No - censored</text>
<path d="M590.3 142.6H613.6M602 136.8V148.9" stroke="#000" stroke-width="1.5" fill="none"/>
<text x="617.4" y="148.6" class="lg" textLength="83.4" lengthAdjust="spacingAndGlyphs">Yes - censored</text>
</svg>
</body></html>
